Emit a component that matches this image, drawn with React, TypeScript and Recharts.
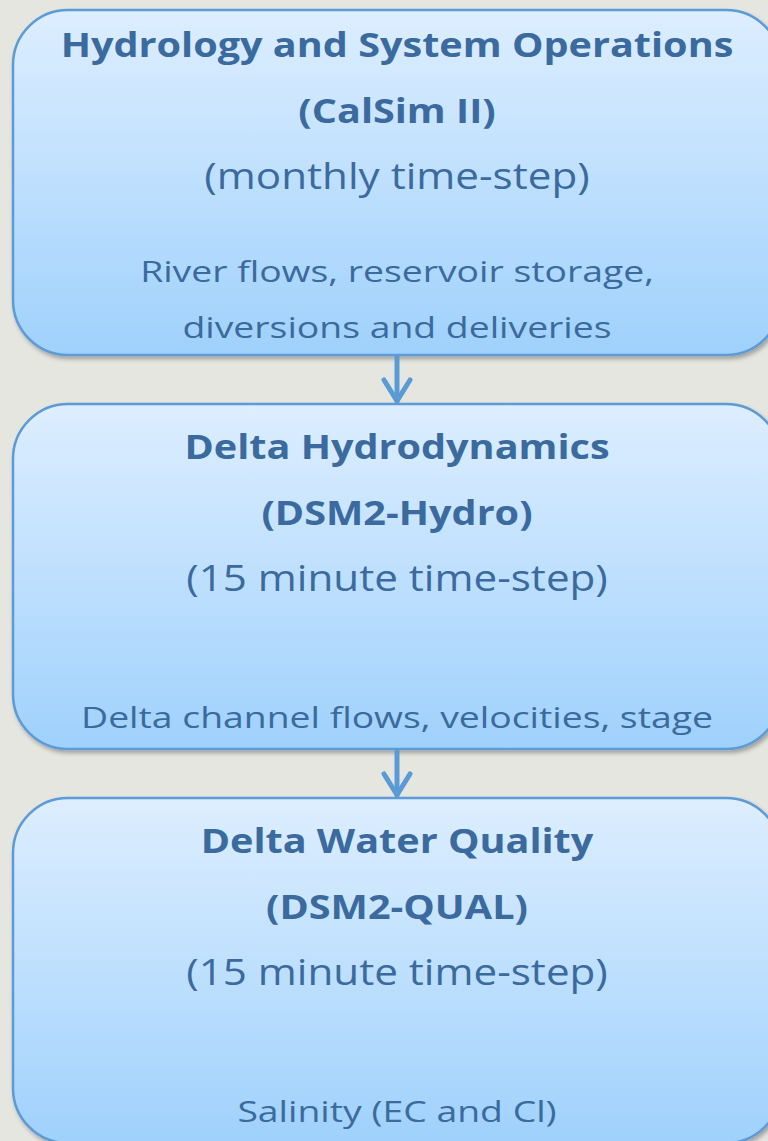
import React from 'react';
import { BarChart, Bar, XAxis, YAxis } from 'recharts';

// one row per modelling stage, top to bottom
const stages = ['Hydrology and System Operations', 'Delta Hydrodynamics', 'Delta Water Quality'];
const models = ['(CalSim II)', '(DSM2-Hydro)', '(DSM2-QUAL)'];
const timeSteps = ['(monthly time-step)', '(15 minute time-step)', '(15 minute time-step)'];
const outputs = [
  ['River flows, reservoir storage,', 'diversions and deliveries'],
  ['Delta channel flows, velocities, stage'],
  ['Salinity (EC and Cl)'],
];

const rows = stages.map((stage, i) => ({
  stage,
  model: models[i],
  timeStep: timeSteps[i],
  output: outputs[i],
  span: 1,
}));

const BG = '#e6e6e1';
const BORDER = '#5b9bd5';
const TEXT = '#3b6a9e';
const FONT = '"Open Sans", sans-serif';
const GAP = 49;

// the slide text is wider than Open Sans, so stretch it horizontally
const Line = ({ cx, y, sx, size, bold, children }: any) => (
  <text
    transform={`translate(${cx},${y}) scale(${sx},1)`}
    textAnchor="middle"
    fill={TEXT}
    fontFamily={FONT}
    fontWeight={bold ? 700 : 400}
    fontSize={size}
  >
    {children}
  </text>
);

const StageBox = (props: any) => {
  const { x, y, width, height, payload } = props;
  const cx = x + width / 2;
  const n = payload.output.length;
  const up = (n - 1) * 8;
  const last = payload.stage === stages[stages.length - 1];
  const bottomBase = y + 324 + (n - 1) * 4;
  return (
    <g>
      <rect
        x={x}
        y={y}
        width={width}
        height={height}
        rx={55}
        ry={55}
        fill="url(#boxFill)"
        stroke={BORDER}
        strokeWidth={2.5}
        filter="url(#boxShadow)"
      />
      <Line cx={cx} y={y + 55 - up} sx={1.165} size={34} bold>{payload.stage}</Line>
      <Line cx={cx} y={y + 121 - up} sx={1.165} size={34} bold>{payload.model}</Line>
      <Line cx={cx} y={y + 187 - up} sx={1.14} size={37}>{payload.timeStep}</Line>
      {payload.output.map((line: string, k: number) => (
        <Line key={k} cx={cx} y={bottomBase - (n - 1 - k) * 56} sx={1.245} size={30}>
          {line}
        </Line>
      ))}
      {!last && (
        <g stroke={BORDER} strokeWidth={5} strokeLinecap="round" strokeLinejoin="round" fill="none">
          <line x1={cx} y1={y + height + 2} x2={cx} y2={y + height + GAP - 3} />
          <polyline
            points={`${cx - 13},${y + height + GAP - 24} ${cx},${y + height + GAP - 3} ${cx + 13},${y + height + GAP - 24}`}
          />
        </g>
      )}
    </g>
  );
};

export default function App() {
  return (
    <div style={{ position: 'absolute', left: 0, top: -15, width: 800, height: 1182, background: BG, overflow: 'hidden' }}>
      <BarChart
        layout="vertical"
        width={800}
        height={1182}
        data={rows}
        margin={{ top: 0, right: 19, bottom: 0, left: 13 }}
        barSize={345}
      >
        <defs>
          <linearGradient id="boxFill" x1="0" y1="0" x2="0" y2="1">
            <stop offset="0%" stopColor="#ddeeff" />
            <stop offset="100%" stopColor="#9fd1fc" />
          </linearGradient>
          <filter id="boxShadow" x="-5%" y="-5%" width="110%" height="115%">
            <feDropShadow dx={2} dy={3} stdDeviation={2} floodColor="#000" floodOpacity={0.3} />
          </filter>
        </defs>
        <XAxis type="number" domain={[0, 1]} hide />
        <YAxis type="category" dataKey="stage" hide />
        <Bar dataKey="span" shape={StageBox} isAnimationActive={false} />
      </BarChart>
    </div>
  );
}
